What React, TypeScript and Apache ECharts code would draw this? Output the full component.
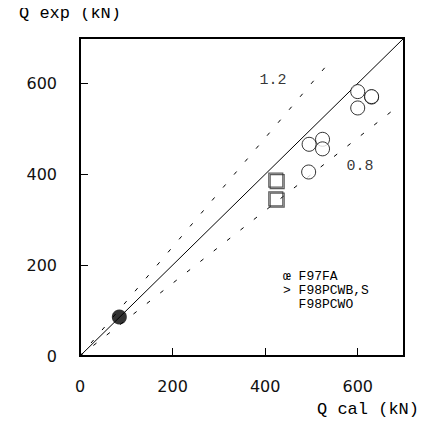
import React, { useEffect, useRef } from "react";
import * as echarts from "echarts";

const xTicks = [0, 200, 400, 600];
const axisMax = 700;

// F98PCWO (open circles)
const circleX = [600, 630, 630, 600, 495, 524, 524, 494];
const circleY = [582, 570, 571, 546, 466, 477, 456, 405];

// F98PCWB,S (open squares, drawn twice slightly offset)
const squareX = [423, 426, 423, 426];
const squareY = [387, 384, 346, 343];

// F97FA (filled circle)
const filledX = [85];
const filledY = [86];

// reference lines: ratio and end x
const ratios = [1.0, 1.2, 0.8];
const ratioEndX = [700, 535, 675];

const annotTexts = ["1.2", "0.8"];
const annotX = [417, 605];
const annotY = [607, 417];

const legendLines = ["œ F97FA", "> F98PCWB,S", "  F98PCWO"];

export default function App() {
  const ref = useRef<HTMLDivElement>(null);
  useEffect(() => {
    if (!ref.current) return;
    const chart = echarts.init(ref.current, null, { renderer: "svg" });
    const mono = "Liberation Mono";
    const sans = "DejaVu Sans";
    const lineSeries = ratios.map((r, i) => ({
      type: "line",
      data: [
        [0, 0],
        [ratioEndX[i], ratioEndX[i] * r],
      ],
      symbol: "none",
      lineStyle: {
        color: "#000",
        width: 1,
        type: i === 0 ? "solid" : [4, 13],
      },
      silent: true,
      z: 1,
    }));
    chart.setOption({
      animation: false,
      grid: {
        left: 80,
        top: 38,
        right: 22,
        bottom: 72,
        show: true,
        borderColor: "#000",
        borderWidth: 2,
        backgroundColor: "transparent",
      },
      xAxis: {
        type: "value",
        min: 0,
        max: axisMax,
        interval: 200,
        splitLine: { show: false },
        axisLine: { lineStyle: { color: "#000", width: 2 } },
        axisTick: { inside: true, length: 8, lineStyle: { color: "#000", width: 1 } },
        axisLabel: {
          showMaxLabel: false,
          margin: 22,
          color: "#111",
          fontFamily: sans,
          fontSize: 16,
        },
      },
      yAxis: {
        type: "value",
        min: 0,
        max: axisMax,
        interval: 200,
        splitLine: { show: false },
        axisLine: { show: true, lineStyle: { color: "#000", width: 2 } },
        axisTick: { show: true, inside: true, length: 8, lineStyle: { color: "#000", width: 1 } },
        axisLabel: {
          showMaxLabel: false,
          margin: 23,
          color: "#111",
          fontFamily: sans,
          fontSize: 16,
        },
      },
      series: [
        ...lineSeries,
        {
          type: "scatter",
          data: circleX.map((x, i) => [x, circleY[i]]),
          symbol: "circle",
          symbolSize: 14,
          itemStyle: { color: "#fff", borderColor: "#000", borderWidth: 1 },
          z: 3,
        },
        {
          type: "scatter",
          data: squareX.map((x, i) => [x, squareY[i]]),
          symbol: "rect",
          symbolSize: 14,
          itemStyle: { color: "transparent", borderColor: "#333", borderWidth: 1.2 },
          z: 3,
        },
        {
          type: "scatter",
          data: filledX.map((x, i) => [x, filledY[i]]),
          symbol: "circle",
          symbolSize: 15,
          itemStyle: { color: "#000" },
          z: 4,
        },
        {
          type: "scatter",
          data: annotX.map((x, i) => ({ value: [x, annotY[i]], name: annotTexts[i] })),
          symbolSize: 0,
          label: {
            show: true,
            position: "inside",
            formatter: (p: any) => p.name,
            color: "#000",
            fontFamily: mono,
            fontSize: 15,
          },
          silent: true,
        },
      ],
      graphic: [
        {
          type: "text",
          left: 19,
          top: 5,
          style: {
            text: "Q exp (kN)",
            fill: "#000",
            font: `17px "${mono}"`,
          },
        },
        {
          type: "text",
          left: 317,
          top: 401,
          style: {
            text: "Q cal (kN)",
            fill: "#000",
            font: `17px "${mono}"`,
          },
        },
        {
          type: "text",
          left: 283,
          top: 269,
          style: {
            text: legendLines.join("\n"),
            fill: "#000",
            font: `13px "${mono}"`,
            lineHeight: 14,
          },
        },
      ],
    });
    return () => chart.dispose();
  }, []);
  return <div ref={ref} style={{ width: 426, height: 428, margin: -8 }} />;
}
